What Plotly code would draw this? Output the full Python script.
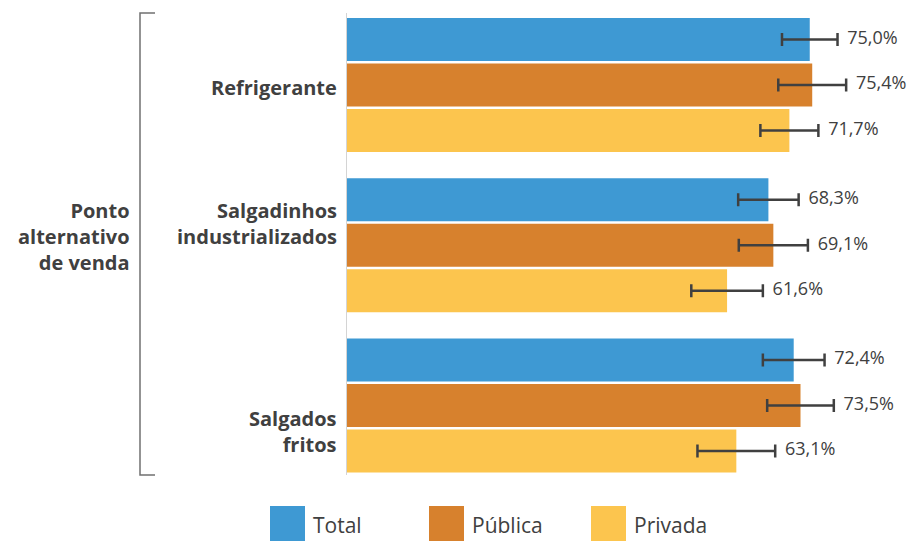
import plotly.graph_objects as go

# Data
categories = ["Refrigerante", "Salgadinhos<br>industrializados", "Salgados<br>fritos"]
series_names = ["Total", "Pública", "Privada"]
values_total = [75.0, 68.3, 72.4]
values_publica = [75.4, 69.1, 73.5]
values_privada = [71.7, 61.6, 63.1]
errors_total = [4.5, 4.9, 5.0]
errors_publica = [5.5, 5.6, 5.4]
errors_privada = [4.7, 5.8, 6.3]
group_label = "Ponto<br>alternativo<br>de venda"

colors = ["#3e99d3", "#d7812d", "#fcc54e"]
text_color = "#404040"
FONT = "Open Sans, Noto Sans, sans-serif"

W, H = 907, 541
ML, MR, MT, MB = 347, 0, 13, 66
PW, PH = W - ML - MR, H - MT - MB

# pixel helpers for the decorations outside the plot area
def px_x(p):
    return (p - ML) / PW

def px_y(p):
    return (H - MB - p) / PH

slot = 0.284          # distance between bars inside a group (category units)
bar_w = 0.268
offsets = [-slot, 0.0, slot]

all_vals = [values_total, values_publica, values_privada]
all_errs = [errors_total, errors_publica, errors_privada]

fig = go.Figure()
for s, name in enumerate(series_names):
    ys = [g + offsets[s] for g in range(len(categories))]
    fig.add_trace(go.Bar(
        x=all_vals[s], y=ys, orientation="h", width=bar_w,
        name=name, marker=dict(color=colors[s], line=dict(width=0)),
        error_x=dict(type="data", array=all_errs[s], color=text_color,
                     thickness=2.5, width=6.5),
        showlegend=False,
    ))
    # value labels sit just past the upper end of each error bar
    fig.add_trace(go.Scatter(
        x=[v + e for v, e in zip(all_vals[s], all_errs[s])], y=ys,
        mode="markers+text", textposition="middle right",
        marker=dict(size=14, opacity=0),
        text=[f"{v:.1f}".replace(".", ",") + "%" for v in all_vals[s]],
        textfont=dict(family=FONT, size=18, color=text_color),
        showlegend=False, hoverinfo="skip",
    ))

annotations = []
# category labels
label_shifts = [-3, 22, -26]
for g, (cat, sh) in enumerate(zip(categories, label_shifts)):
    annotations.append(dict(
        x=0, xref="paper", y=g, yref="y", text=cat, showarrow=False,
        xanchor="right", yanchor="middle", align="right", xshift=-8, yshift=sh,
        font=dict(family=FONT, size=20, color=text_color, weight=700),
    ))
# group label
annotations.append(dict(
    x=px_x(132), xref="paper", y=px_y(236), yref="paper", text=group_label,
    showarrow=False, xanchor="right", yanchor="middle", align="right",
    font=dict(family=FONT, size=20, color=text_color, weight=700),
))

shapes = []
# bracket
bx, btop, bbot, btick = 140, 13, 475, 155
shapes.append(dict(type="path", xref="paper", yref="paper",
                   path=f"M {px_x(btick)},{px_y(btop)} L {px_x(bx)},{px_y(btop)} "
                        f"L {px_x(bx)},{px_y(bbot)} L {px_x(btick)},{px_y(bbot)}",
                   line=dict(color="#707070", width=1.5)))

# legend
legend_x = [270, 429, 591]
for s, name in enumerate(series_names):
    x0 = legend_x[s]
    shapes.append(dict(type="rect", xref="paper", yref="paper",
                       x0=px_x(x0), x1=px_x(x0 + 35), y0=px_y(541), y1=px_y(506),
                       fillcolor=colors[s], line=dict(width=0)))
    annotations.append(dict(
        x=px_x(x0 + 41), xref="paper", y=px_y(525), yref="paper", text=name,
        showarrow=False, xanchor="left", yanchor="middle",
        font=dict(family=FONT, size=21, color=text_color),
    ))

fig.update_layout(
    width=W, height=H,
    margin=dict(l=ML, r=MR, t=MT, b=MB),
    paper_bgcolor="white", plot_bgcolor="white",
    barmode="overlay",
    xaxis=dict(range=[0, PW / 6.17], visible=False, fixedrange=True),
    yaxis=dict(range=[2.434, -0.449], showticklabels=False, ticks="",
               showgrid=False, zeroline=False, showline=True,
               linecolor="#d4d4d4", linewidth=1),
    annotations=annotations, shapes=shapes,
    showlegend=False,
)

fig.write_html("out.html")
